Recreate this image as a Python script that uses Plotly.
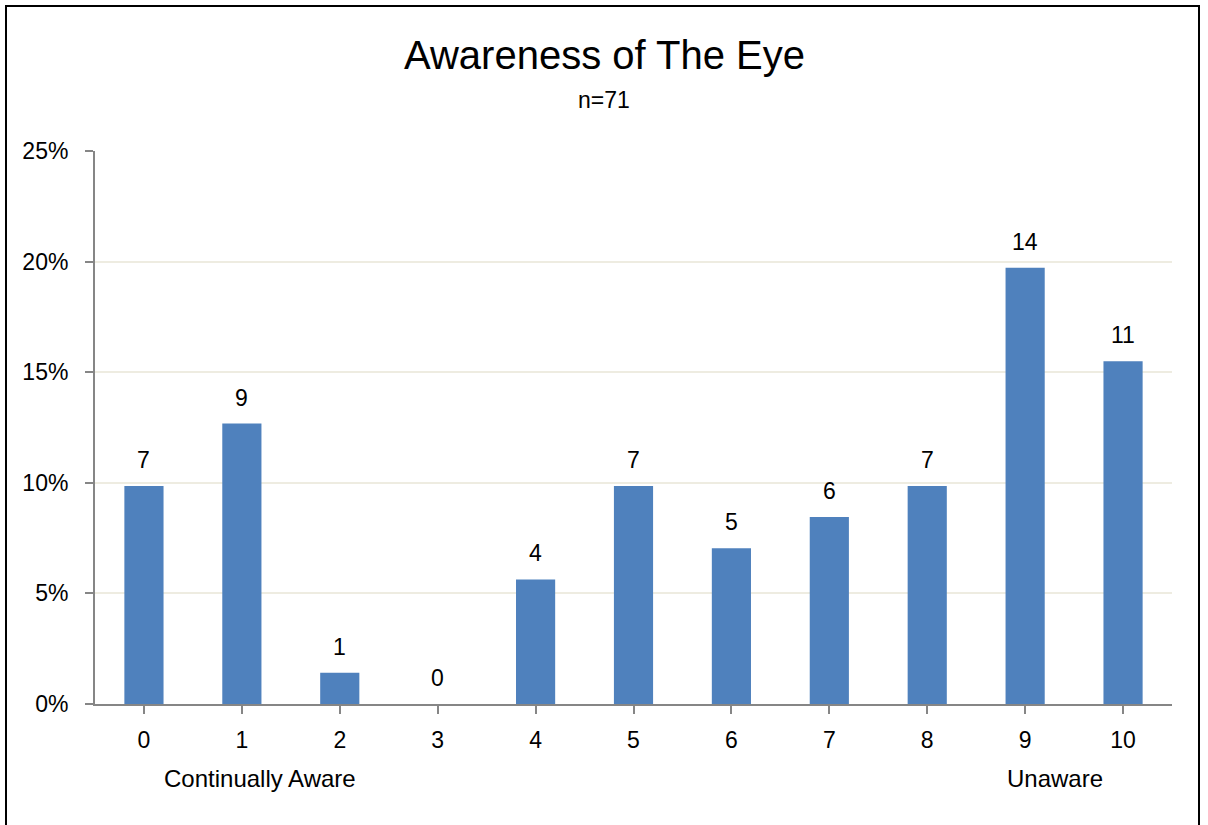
import plotly.graph_objects as go

categories = ["0", "1", "2", "3", "4", "5", "6", "7", "8", "9", "10"]
counts = [7, 9, 1, 0, 4, 7, 5, 6, 7, 14, 11]
n_total = 71
y_ticks = [0, 0.05, 0.10, 0.15, 0.20, 0.25]
y_tick_labels = ["0%", "5%", "10%", "15%", "20%", "25%"]
title_text = "Awareness of The Eye"
subtitle_text = "n=71"
end_labels = [("Continually Aware", 1.185), ("Unaware", 9.31)]

pct = [c / n_total for c in counts]
xs = list(range(len(categories)))

FONT = "Liberation Sans Narrow, Arial Narrow, Liberation Sans, Arial, sans-serif"
W, H = 1208, 825
ml, mr, mt, mb = 95, 36, 151, 121
pw, ph = W - ml - mr, H - mt - mb
title_x = (W / 2 - ml) / pw

fig = go.Figure()
fig.add_trace(go.Bar(x=xs, y=pct, marker=dict(color="#4F81BD", line=dict(width=0)),
                     hoverinfo="skip"))

for x, p, c in zip(xs, pct, counts):
    fig.add_annotation(x=x, y=p, xref="x", yref="y", text=str(c), showarrow=False,
                       yanchor="bottom", yshift=11, font=dict(size=23, color="black", family=FONT))

for txt, xv in end_labels:
    fig.add_annotation(x=xv, y=(704 - 778) / ph, xref="x", yref="paper", text=txt,
                       showarrow=False, yanchor="middle",
                       font=dict(size=24, color="black", family=FONT))

fig.add_annotation(x=title_x, xref="paper", y=(704 - 55) / ph, yref="paper", text=title_text,
                   showarrow=False, yanchor="middle", font=dict(size=40, color="black", family=FONT))
fig.add_annotation(x=title_x, xref="paper", y=(704 - 100) / ph, yref="paper", text=subtitle_text,
                   showarrow=False, yanchor="middle", font=dict(size=23, color="black", family=FONT))

# outer chart border
fig.add_shape(type="rect", xref="paper", yref="paper",
              x0=(6 - ml) / pw, x1=(1199 - ml) / pw,
              y0=(704 - 840) / ph, y1=(704 - 6) / ph,
              line=dict(color="black", width=2), fillcolor="rgba(0,0,0,0)")

fig.update_layout(
    width=W, height=H,
    margin=dict(l=ml, r=mr, t=mt, b=mb),
    paper_bgcolor="white", plot_bgcolor="white",
    bargap=0.6, showlegend=False,
    font=dict(family=FONT, size=23, color="black"),
)
fig.update_xaxes(
    range=[-0.5, 10.5], tickmode="array", tickvals=xs, ticktext=categories,
    showgrid=False, showline=True, linecolor="#868686", linewidth=2,
    ticks="outside", tickson="boundaries", ticklen=8, tickcolor="#868686", tickwidth=2,
    ticklabelstandoff=6,
    tickfont=dict(size=23, color="black", family=FONT), zeroline=False, fixedrange=True,
)
fig.update_yaxes(
    range=[0, 0.25], tickmode="array", tickvals=y_ticks, ticktext=y_tick_labels,
    showgrid=True, gridcolor="#EEECE1", gridwidth=2,
    showline=True, linecolor="#868686", linewidth=2,
    ticks="outside", ticklen=8, tickcolor="#868686", tickwidth=2,
    ticklabelstandoff=12,
    tickfont=dict(size=23, color="black", family=FONT), zeroline=False, fixedrange=True,
)

fig.write_html("out.html", post_script="document.body.style.margin='0';",
               config={"displayModeBar": False, "staticPlot": True})
